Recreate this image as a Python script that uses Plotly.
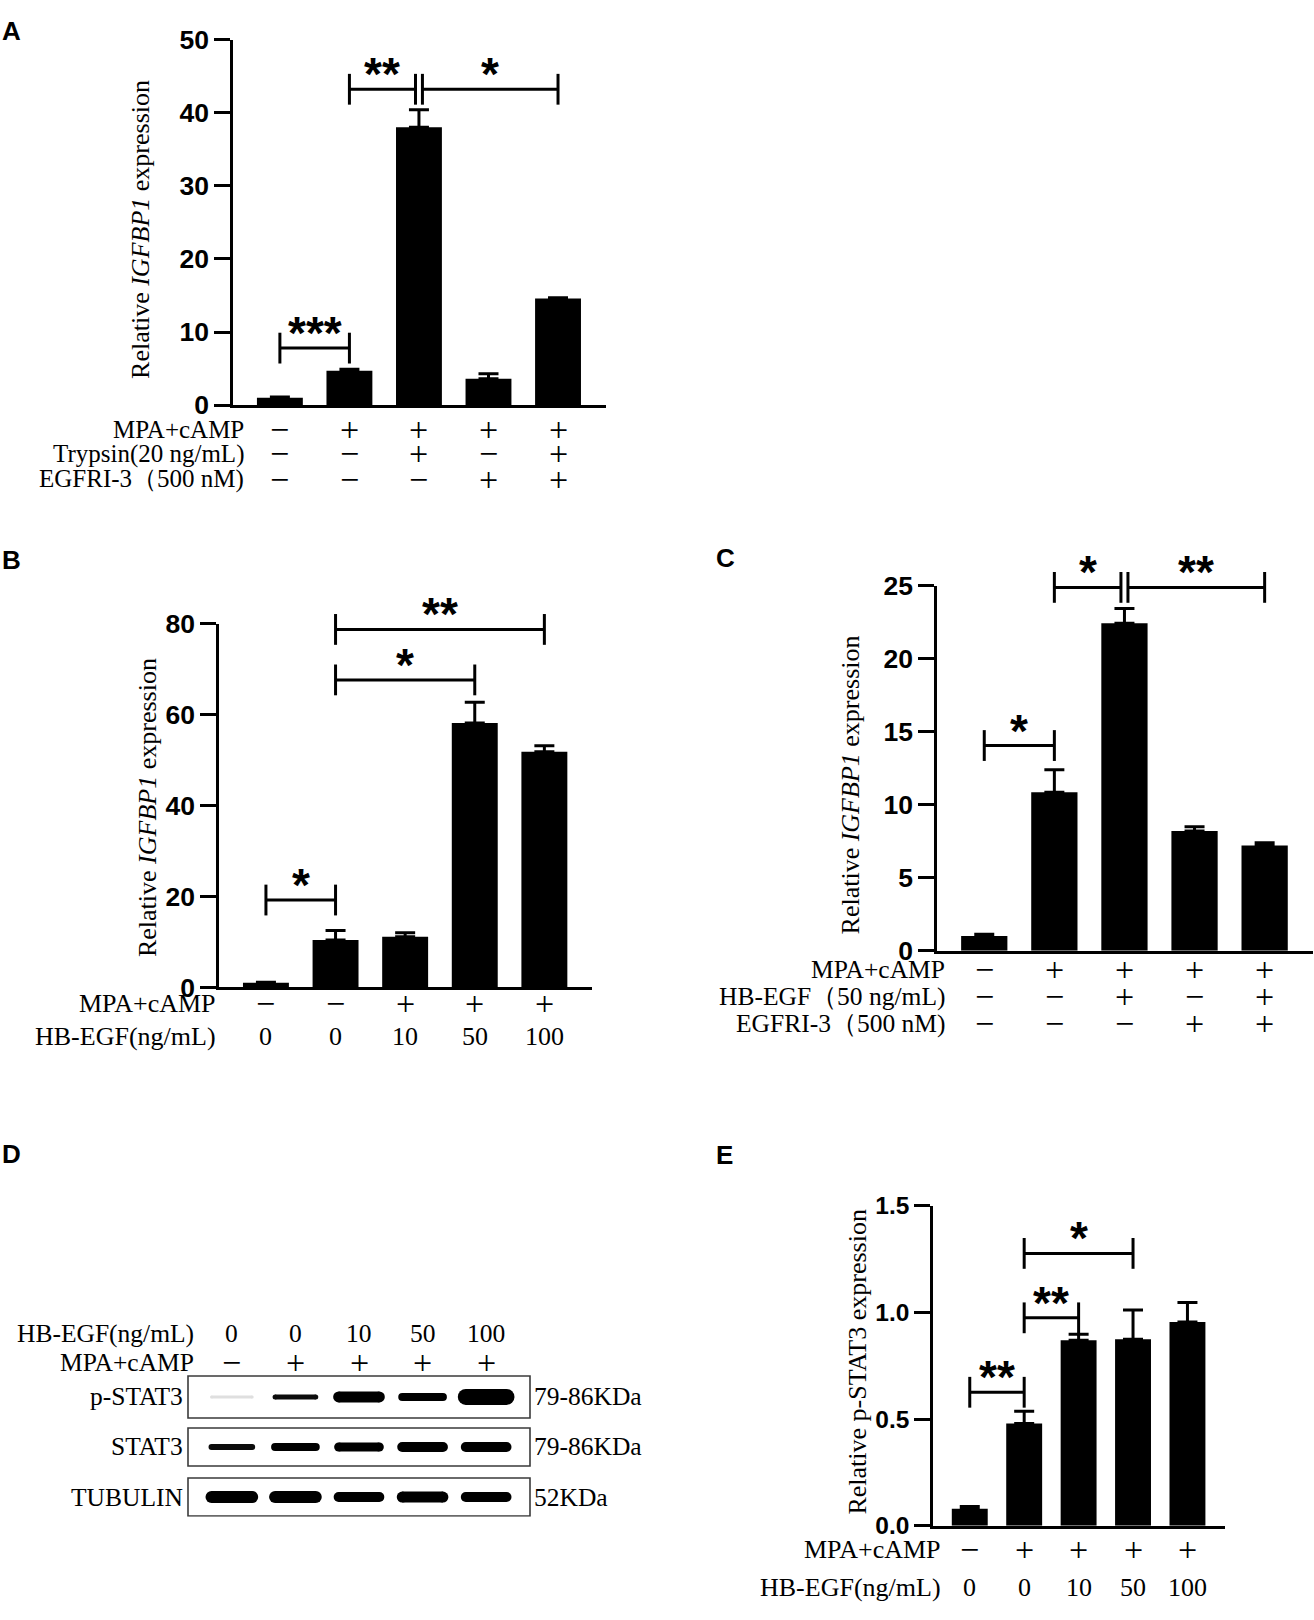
import plotly.graph_objects as go

W, H = 1314, 1620

# ---------------- data ----------------
lanes = [0, 1, 2, 3, 4]

# A
a_mean = [1.0, 4.7, 38.0, 3.6, 14.6]
a_err = [0.1, 0.2, 2.4, 0.7, 0.1]
a_ticks = [0, 10, 20, 30, 40, 50]
a_rows = ["MPA+cAMP", "Trypsin(20 ng/mL)", "EGFRI-3（500 nM)"]
a_signs = [["−", "+", "+", "+", "+"],
           ["−", "−", "+", "−", "+"],
           ["−", "−", "−", "+", "+"]]
a_sig = [(0, 1, 7.8, "***"), (1, 2, 43.2, "**"), (2, 4, 43.2, "*")]

# B
b_mean = [1.0, 10.4, 11.1, 58.1, 51.8]
b_err = [0.1, 2.1, 0.9, 4.6, 1.3]
b_ticks = [0, 20, 40, 60, 80]
b_rows = ["MPA+cAMP", "HB-EGF(ng/mL)"]
b_signs = [["−", "−", "+", "+", "+"],
           ["0", "0", "10", "50", "100"]]
b_sig = [(0, 1, 19.2, "*"), (1, 3, 67.6, "*"), (1, 4, 78.7, "**")]

# C
c_mean = [1.0, 10.85, 22.45, 8.2, 7.2]
c_err = [0.12, 1.55, 1.0, 0.3, 0.2]
c_ticks = [0, 5, 10, 15, 20, 25]
c_rows = ["MPA+cAMP", "HB-EGF（50 ng/mL)", "EGFRI-3（500 nM)"]
c_signs = [["−", "+", "+", "+", "+"],
           ["−", "−", "+", "−", "+"],
           ["−", "−", "−", "+", "+"]]
c_sig = [(0, 1, 14.06, "*"), (1, 2, 24.9, "*"), (2, 4, 24.9, "**")]

# D (western blot)
d_dose = ["0", "0", "10", "50", "100"]
d_mpa = ["−", "+", "+", "+", "+"]
d_proteins = ["p-STAT3", "STAT3", "TUBULIN"]
d_kda = ["79-86KDa", "79-86KDa", "52KDa"]
d_band_px = [[3, 5, 11, 8, 16],
             [6, 8, 9, 10, 10],
             [12, 12, 10, 11, 10]]
d_band_int = [[0.12, 0.95, 1, 1, 1],
              [0.95, 1, 1, 1, 1],
              [1, 1, 1, 1, 1]]

# E
e_mean = [0.08, 0.48, 0.87, 0.875, 0.955]
e_err = [0.01, 0.057, 0.028, 0.137, 0.092]
e_ticks = [0, 0.5, 1.0, 1.5]
e_ticktext = ["0.0", "0.5", "1.0", "1.5"]
e_rows = ["MPA+cAMP", "HB-EGF(ng/mL)"]
e_signs = [["−", "+", "+", "+", "+"],
           ["0", "0", "10", "50", "100"]]
e_sig = [(0, 1, 0.626, "**"), (1, 2, 0.975, "**"), (1, 3, 1.277, "*")]

# ---------------- helpers ----------------
SERIF = "Liberation Serif, Times New Roman, serif"
SANS = "Liberation Sans, Arial, sans-serif"


def fx(p):
    return p / W


def fy(p):
    return 1 - p / H


fig = go.Figure()
annotations = []
shapes = []
axes = {}


def sign_font(s, size):
    return dict(family=SERIF, size=34 if s in "+−" else size, color="black")


def bar_panel(n, mean, err, ticks, ticktext, tsize, sig, xpx, ypx, title, title_px,
              rows, signs, rows_px, label_right, fsize):
    xa = "x" if n == 1 else "x%d" % n
    ya = "y" if n == 1 else "y%d" % n
    fig.add_trace(go.Bar(
        x=lanes, y=mean, width=0.66, xaxis=xa, yaxis=ya,
        marker=dict(color="black", line=dict(width=0)),
        error_y=dict(type="data", array=err, arrayminus=[0] * 5,
                     symmetric=False, color="black", thickness=3, width=10),
        showlegend=False, hoverinfo="skip"))
    # significance brackets
    for (i, j, lvl, lab) in sig:
        xi, xj = float(i), float(j)
        for (i2, j2, l2, _) in sig:
            if l2 == lvl and j2 == i:
                xi += 0.05
            if l2 == lvl and i2 == j:
                xj -= 0.05
        fig.add_trace(go.Scatter(
            x=[xi, xj], y=[lvl, lvl], xaxis=xa, yaxis=ya,
            mode="lines+markers", line=dict(color="black", width=3),
            marker=dict(symbol="line-ns", size=22,
                        line=dict(width=3, color="black")),
            cliponaxis=False, showlegend=False, hoverinfo="skip"))
        annotations.append(dict(
            x=(xi + xj) / 2, y=lvl, xref=xa, yref=ya, text=lab,
            showarrow=False, xanchor="center", yanchor="middle", yshift=15,
            font=dict(family=SANS, size=46, color="black", weight="bold")))
    axes["xaxis" if n == 1 else "xaxis%d" % n] = dict(
        domain=[fx(xpx[0]), fx(xpx[1])], range=[-0.67, 4.69], anchor=ya,
        showline=True, linewidth=3, linecolor="black", ticks="",
        showticklabels=False, showgrid=False, zeroline=False)
    axes["yaxis" if n == 1 else "yaxis%d" % n] = dict(
        domain=[fy(ypx[1]), fy(ypx[0])], range=[0, ticks[-1]], anchor=xa,
        showline=True, linewidth=3, linecolor="black", ticks="outside",
        ticklen=16, tickwidth=3, tickcolor="black", tickvals=ticks,
        ticktext=ticktext if ticktext else [str(t) for t in ticks],
        tickfont=dict(family=SANS, size=tsize, color="black", weight="bold"),
        showgrid=False, zeroline=False)
    annotations.append(dict(
        x=fx(title_px[0]), y=fy(title_px[1]), xref="paper", yref="paper",
        text=title, textangle=-90, showarrow=False, xanchor="center",
        yanchor="middle", font=dict(family=SERIF, size=26, color="black")))
    for r, lab in enumerate(rows):
        annotations.append(dict(
            x=fx(label_right), y=fy(rows_px[r]), xref="paper", yref="paper",
            text=lab, showarrow=False, xanchor="right", yanchor="middle",
            font=dict(family=SERIF, size=fsize, color="black")))
        for k, s in enumerate(signs[r]):
            annotations.append(dict(
                x=lanes[k], y=fy(rows_px[r]), xref=xa, yref="paper", text=s,
                showarrow=False, xanchor="center", yanchor="middle",
                font=sign_font(s, fsize)))


bar_panel(1, a_mean, a_err, a_ticks, None, 26.5, a_sig, (233.3, 606), (25, 397.5),
          "Relative <i>IGFBP1</i> expression", (141, 219),
          a_rows, a_signs, [422.5, 447, 473], 246, 25)
bar_panel(2, b_mean, b_err, b_ticks, None, 26.5, b_sig, (219.3, 592.4), (620, 990.7),
          "Relative <i>IGFBP1</i> expression", (147, 808),
          b_rows, b_signs, [1007, 1041], 218, 26)
bar_panel(3, c_mean, c_err, c_ticks, None, 26.5, c_sig, (937.3, 1313), (581.7, 953.3),
          "Relative <i>IGFBP1</i> expression", (850, 785),
          c_rows, c_signs, [973, 1000, 1028], 947, 25.5)
bar_panel(4, e_mean, e_err, e_ticks, e_ticktext, 24.5, e_sig, (933.3, 1225), (1213.3, 1539.3),
          "Relative p-STAT3 expression", (858, 1372),
          e_rows, e_signs, [1563, 1602], 943, 26)

# ---------------- D: blot ----------------
for r in range(3):
    for k in lanes:
        t = d_band_px[r][k]
        fig.add_trace(go.Scatter(
            x=[k - 0.32, k + 0.32], y=[r, r], xaxis="x5", yaxis="y5",
            mode="lines+markers", line=dict(color="black", width=t),
            marker=dict(symbol="circle", size=t, color="black", line=dict(width=0)),
            opacity=d_band_int[r][k], showlegend=False, hoverinfo="skip"))
    half = 0.42 if r == 0 else 0.38
    shapes.append(dict(type="rect", xref="x5 domain", yref="y5", x0=0, x1=1,
                       y0=r - half, y1=r + half,
                       line=dict(color="#3a3a3a", width=1.6)))
    annotations.append(dict(
        x=fx(185), y=r, xref="paper", yref="y5", text=d_proteins[r],
        showarrow=False, xanchor="right", yanchor="middle",
        font=dict(family=SERIF, size=25.5, color="black")))
    annotations.append(dict(
        x=fx(532), y=r, xref="paper", yref="y5", text=d_kda[r],
        showarrow=False, xanchor="left", yanchor="middle",
        font=dict(family=SERIF, size=25.5, color="black")))

for lab, vals, ypx in [("HB-EGF(ng/mL)", d_dose, 1343), ("MPA+cAMP", d_mpa, 1373)]:
    annotations.append(dict(
        x=fx(196), y=fy(ypx), xref="paper", yref="paper", text=lab,
        showarrow=False, xanchor="right", yanchor="middle",
        font=dict(family=SERIF, size=25.5, color="black")))
    for k, s in enumerate(vals):
        annotations.append(dict(
            x=lanes[k], y=fy(ypx), xref="x5", yref="paper", text=s,
            showarrow=False, xanchor="center", yanchor="middle",
            font=sign_font(s, 25.5)))

axes["xaxis5"] = dict(domain=[fx(188), fx(530)], range=[-0.69, 4.69],
                      anchor="y5", visible=False)
axes["yaxis5"] = dict(domain=[fy(1530), fy(1386)], range=[2.392, -0.431],
                      anchor="x5", visible=False)

# panel letters
for lab, (px, py) in zip("ABCDE", [(11, 16), (11.5, 555), (725, 553.5),
                                   (11, 1160), (724, 1161)]):
    annotations.append(dict(
        x=fx(px), y=fy(py), xref="paper", yref="paper", text=lab,
        showarrow=False, xanchor="center", yanchor="middle",
        font=dict(family=SANS, size=26, color="black", weight="bold")))

fig.update_layout(
    width=W, height=H, margin=dict(l=0, r=0, t=0, b=0),
    paper_bgcolor="white", plot_bgcolor="white",
    showlegend=False, hovermode=False,
    annotations=annotations, shapes=shapes, **axes)

# drop the default page margin so the figure sits at the window's corner
fig.write_html("out.html", config={"displayModeBar": False},
               post_script="document.body.style.margin = '0px';")
